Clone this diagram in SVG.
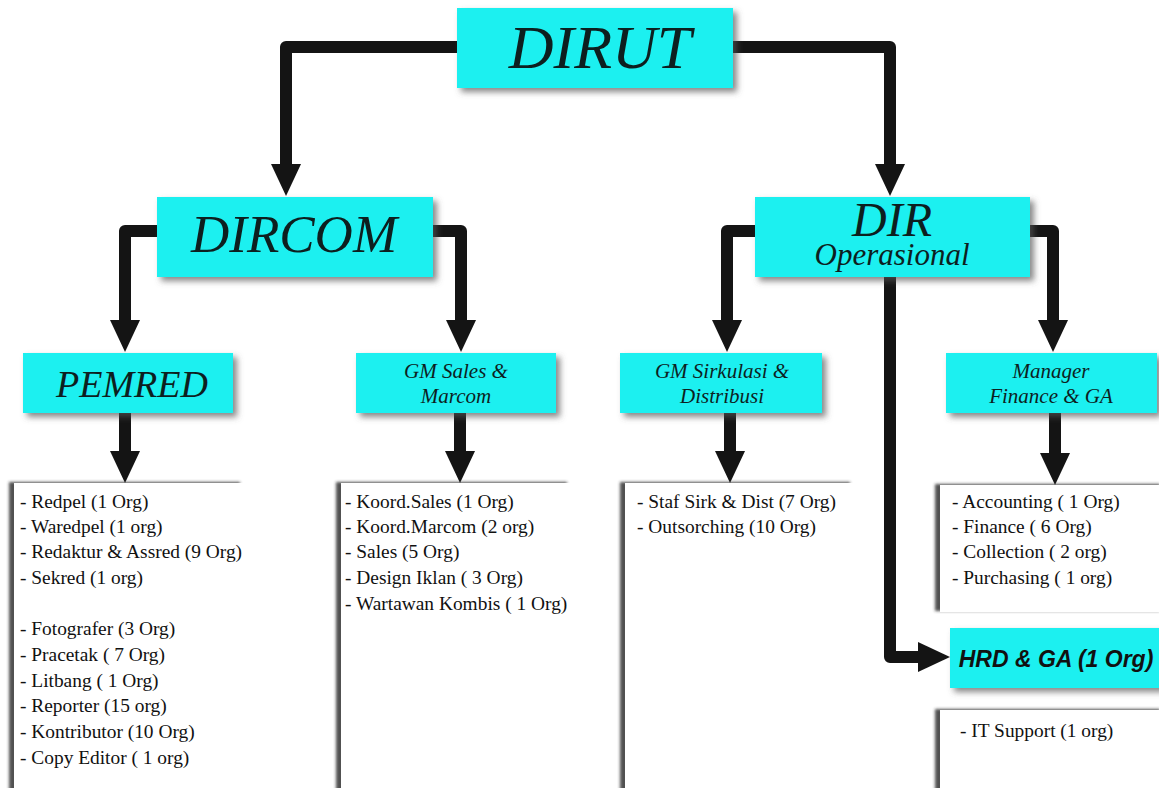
<svg xmlns="http://www.w3.org/2000/svg" width="1159" height="788" viewBox="0 0 1159 788">
<defs>
<style>
.box{fill:#1cf0f0;filter:url(#sh)}
.list{fill:#ffffff;filter:url(#lsh)}
.t{font-family:"Liberation Serif","Times New Roman",serif;font-style:italic;fill:#0d1f1f;text-anchor:middle}
.li{font-family:"Liberation Serif","Times New Roman",serif;font-size:19.4px;fill:#111}
.hrd{font-family:"Liberation Sans",Arial,sans-serif;font-style:italic;font-weight:bold;font-size:23px;fill:#111;text-anchor:middle}
.c{fill:none;stroke:#141414;stroke-width:12;stroke-linejoin:round}
</style>
<filter id="sh" x="-10%" y="-20%" width="130%" height="160%">
<feDropShadow dx="4" dy="4" stdDeviation="3" flood-color="#555" flood-opacity="0.7"/>
</filter>
<filter id="lsh" x="-10%" y="-10%" width="130%" height="130%">
<feDropShadow dx="-5" dy="-1" stdDeviation="1.8" flood-color="#333" flood-opacity="0.85"/>
</filter>
<marker id="ah" viewBox="0 0 32 30" refX="0" refY="15" markerWidth="32" markerHeight="30" markerUnits="userSpaceOnUse" orient="auto">
<path d="M0,0 L32,15 L0,30 z" fill="#141414"/>
</marker>
</defs>
<rect width="1159" height="788" fill="#ffffff"/>
<g id="connectors">
<path class="c" d="M458,47 H286 V164" marker-end="url(#ah)"/>
<path class="c" d="M732,47 H890 V164" marker-end="url(#ah)"/>
<path class="c" d="M158,231 H125 V320" marker-end="url(#ah)"/>
<path class="c" d="M432,231 H461 V320" marker-end="url(#ah)"/>
<path class="c" d="M756,231 H727 V320" marker-end="url(#ah)"/>
<path class="c" d="M1029,231 H1053 V320" marker-end="url(#ah)"/>
<path class="c" d="M890,276 V657 H918" marker-end="url(#ah)"/>
<path class="c" d="M125,413 V451" marker-end="url(#ah)"/>
<path class="c" d="M460,413 V451" marker-end="url(#ah)"/>
<path class="c" d="M730,413 V451" marker-end="url(#ah)"/>
<path class="c" d="M1055,413 V453" marker-end="url(#ah)"/>
</g>
<g id="dirut">
<rect class="box" x="457" y="8" width="276" height="80"/>
<text class="t" x="600" y="68" font-size="62">DIRUT</text>
</g>
<g id="dircom">
<rect class="box" x="157" y="197" width="276" height="80"/>
<text class="t" x="294" y="252" font-size="53">DIRCOM</text>
</g>
<g id="dir-operasional">
<rect class="box" x="755" y="197" width="275" height="80"/>
<text class="t" x="892" y="236" font-size="48">DIR</text>
<text class="t" x="892" y="265" font-size="31">Operasional</text>
</g>
<g id="pemred">
<rect class="box" x="23" y="353" width="210" height="60"/>
<text class="t" x="132" y="397" font-size="38">PEMRED</text>
</g>
<g id="gm-sales">
<rect class="box" x="356" y="353" width="200" height="60"/>
<text class="t" x="456" y="378" font-size="21">GM Sales &amp;</text>
<text class="t" x="456" y="403" font-size="21">Marcom</text>
</g>
<g id="gm-sirkulasi">
<rect class="box" x="620" y="353" width="202" height="60"/>
<text class="t" x="722" y="378" font-size="21">GM Sirkulasi &amp;</text>
<text class="t" x="722" y="403" font-size="21">Distribusi</text>
</g>
<g id="manager-finance">
<rect class="box" x="946" y="353" width="211" height="60"/>
<text class="t" x="1051" y="378" font-size="21">Manager</text>
<text class="t" x="1051" y="403" font-size="21">Finance &amp; GA</text>
</g>
<g id="pemred-list">
<rect class="list" x="14" y="483" width="231" height="310"/>
<text class="li" x="20" y="508">- Redpel (1 Org)</text>
<text class="li" x="20" y="533">- Waredpel (1 org)</text>
<text class="li" x="20" y="558">- Redaktur &amp; Assred (9 Org)</text>
<text class="li" x="20" y="584">- Sekred (1 org)</text>
<text class="li" x="20" y="635">- Fotografer (3 Org)</text>
<text class="li" x="20" y="661">- Pracetak ( 7 Org)</text>
<text class="li" x="20" y="687">- Litbang ( 1 Org)</text>
<text class="li" x="20" y="712">- Reporter (15 org)</text>
<text class="li" x="20" y="738">- Kontributor (10 Org)</text>
<text class="li" x="20" y="764">- Copy Editor ( 1 org)</text>
</g>
<g id="gm-sales-list">
<rect class="list" x="341" y="483" width="231" height="310"/>
<text class="li" x="345" y="508">- Koord.Sales (1 Org)</text>
<text class="li" x="345" y="533">- Koord.Marcom (2 org)</text>
<text class="li" x="345" y="558">- Sales (5 Org)</text>
<text class="li" x="345" y="584">- Design Iklan ( 3 Org)</text>
<text class="li" x="345" y="610">- Wartawan Kombis ( 1 Org)</text>
</g>
<g id="gm-sirkulasi-list">
<rect class="list" x="625" y="483" width="230" height="310"/>
<text class="li" x="637" y="508">- Staf Sirk &amp; Dist (7 Org)</text>
<text class="li" x="637" y="533">- Outsorching (10 Org)</text>
</g>
<g id="manager-finance-list">
<rect class="list" x="940" y="485" width="225" height="127"/>
<text class="li" x="952" y="508">- Accounting ( 1 Org)</text>
<text class="li" x="952" y="533">- Finance ( 6 Org)</text>
<text class="li" x="952" y="558">- Collection ( 2 org)</text>
<text class="li" x="952" y="584">- Purchasing ( 1 org)</text>
</g>
<g id="hrd-ga">
<rect class="box" x="950" y="628" width="215" height="60"/>
<text class="hrd" x="1056" y="667">HRD &amp; GA (1 Org)</text>
</g>
<g id="it-support">
<rect class="list" x="940" y="710" width="225" height="90"/>
<text class="li" x="960" y="737">- IT Support (1 org)</text>
</g>
</svg>
